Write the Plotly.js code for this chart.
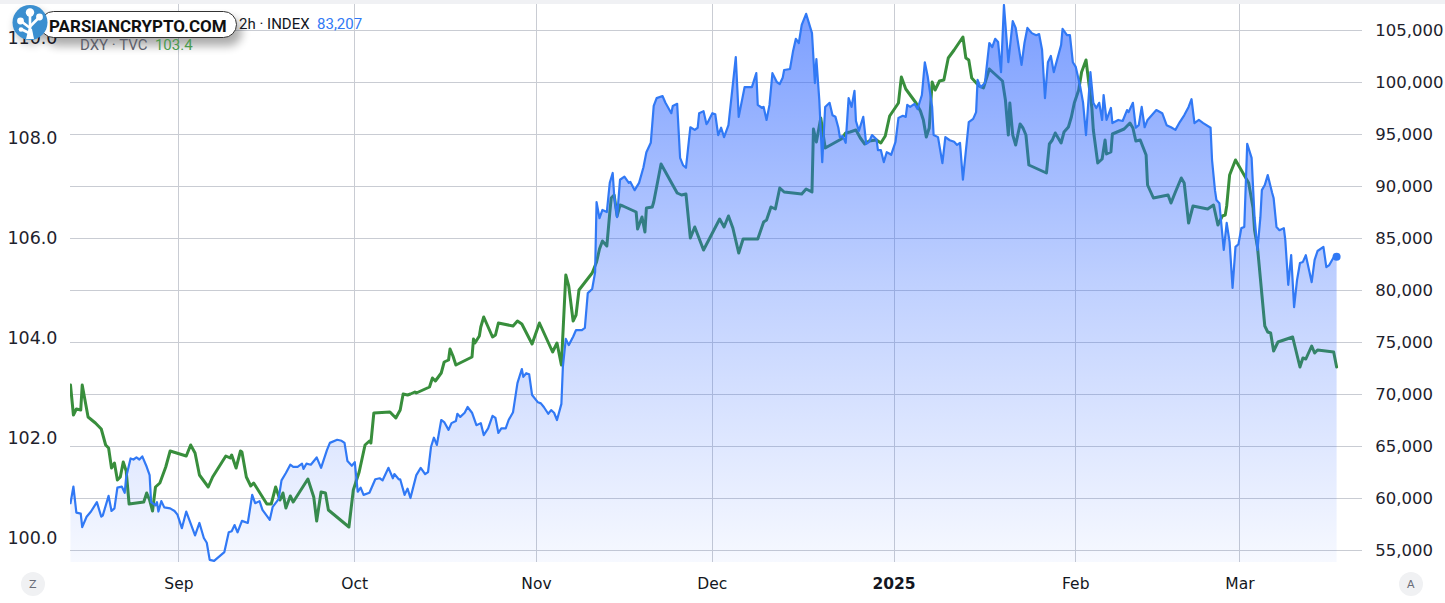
<!DOCTYPE html>
<html><head><meta charset="utf-8">
<script src="https://cdn.plot.ly/plotly-3.0.1.min.js"></script>
<style>
html,body{margin:0;padding:0;background:#fff;}
#chart{width:1445px;height:603px;}
#chart path.js-line{stroke-linejoin:round;stroke-linecap:round;}
</style>
</head><body><div id="chart"></div>
<script>
const btcDates = [
'2024-08-13 12:00','2024-08-14 00:00','2024-08-14 12:00','2024-08-15 06:00','2024-08-15 12:00','2024-08-16 06:00','2024-08-17 00:00','2024-08-18 00:00','2024-08-18 18:00','2024-08-19 00:00',
'2024-08-20 00:00','2024-08-20 12:00','2024-08-21 00:00','2024-08-21 12:00','2024-08-22 06:00','2024-08-22 18:00','2024-08-23 00:00','2024-08-23 18:00','2024-08-24 06:00','2024-08-24 18:00',
'2024-08-25 06:00','2024-08-25 18:00','2024-08-26 12:00','2024-08-27 00:00','2024-08-27 06:00','2024-08-28 00:00','2024-08-28 06:00','2024-08-28 12:00','2024-08-29 00:00','2024-08-29 12:00',
'2024-08-30 12:00','2024-08-31 06:00','2024-08-31 18:00','2024-09-01 12:00','2024-09-02 06:00','2024-09-03 00:00','2024-09-03 18:00','2024-09-04 12:00','2024-09-05 06:00','2024-09-05 18:00',
'2024-09-06 06:00','2024-09-07 00:00','2024-09-08 00:00','2024-09-08 18:00','2024-09-09 12:00','2024-09-10 00:00','2024-09-10 12:00','2024-09-11 00:00','2024-09-11 18:00','2024-09-12 12:00',
'2024-09-12 18:00','2024-09-13 12:00','2024-09-14 00:00','2024-09-14 18:00','2024-09-15 06:00','2024-09-16 12:00','2024-09-17 00:00','2024-09-18 00:00','2024-09-18 12:00','2024-09-19 06:00',
'2024-09-20 00:00','2024-09-20 12:00','2024-09-21 06:00','2024-09-22 00:00','2024-09-22 06:00','2024-09-22 18:00','2024-09-23 12:00','2024-09-24 12:00','2024-09-25 06:00','2024-09-26 06:00',
'2024-09-26 18:00','2024-09-28 00:00','2024-09-28 18:00','2024-09-29 06:00','2024-09-29 18:00','2024-09-30 12:00','2024-10-01 00:00','2024-10-01 12:00','2024-10-02 00:00','2024-10-02 12:00',
'2024-10-03 12:00','2024-10-04 12:00','2024-10-05 06:00','2024-10-05 18:00','2024-10-06 18:00','2024-10-07 12:00','2024-10-07 18:00','2024-10-08 12:00','2024-10-08 18:00','2024-10-09 12:00',
'2024-10-10 00:00','2024-10-10 12:00','2024-10-11 12:00','2024-10-12 06:00','2024-10-13 00:00','2024-10-13 12:00','2024-10-14 00:00','2024-10-14 12:00','2024-10-15 00:00','2024-10-15 18:00',
'2024-10-16 06:00','2024-10-17 00:00','2024-10-17 12:00','2024-10-18 06:00','2024-10-18 12:00','2024-10-19 00:00','2024-10-19 18:00','2024-10-20 06:00','2024-10-21 00:00','2024-10-21 18:00',
'2024-10-22 12:00','2024-10-23 00:00','2024-10-23 18:00','2024-10-24 12:00','2024-10-25 00:00','2024-10-25 12:00','2024-10-26 00:00','2024-10-26 18:00','2024-10-27 06:00','2024-10-28 00:00',
'2024-10-28 18:00','2024-10-29 12:00','2024-10-29 18:00','2024-10-30 06:00','2024-10-30 18:00','2024-10-31 06:00','2024-11-01 06:00','2024-11-01 18:00','2024-11-02 06:00','2024-11-03 00:00',
'2024-11-03 12:00','2024-11-04 00:00','2024-11-04 12:00','2024-11-05 06:00','2024-11-05 12:00','2024-11-06 00:00','2024-11-06 12:00','2024-11-07 06:00','2024-11-07 18:00','2024-11-08 18:00',
'2024-11-09 06:00','2024-11-09 18:00','2024-11-10 12:00','2024-11-11 00:00','2024-11-11 06:00','2024-11-11 18:00','2024-11-12 06:00','2024-11-13 00:00','2024-11-13 12:00','2024-11-14 00:00',
'2024-11-14 06:00','2024-11-14 18:00','2024-11-15 06:00','2024-11-16 00:00','2024-11-16 18:00','2024-11-17 00:00','2024-11-17 18:00','2024-11-18 12:00','2024-11-19 06:00','2024-11-19 18:00',
'2024-11-20 12:00','2024-11-21 00:00','2024-11-21 12:00','2024-11-22 12:00','2024-11-23 00:00','2024-11-24 00:00','2024-11-24 06:00','2024-11-25 00:00','2024-11-25 12:00','2024-11-26 00:00',
'2024-11-26 12:00','2024-11-27 06:00','2024-11-28 00:00','2024-11-28 12:00','2024-11-28 18:00','2024-11-29 12:00','2024-11-30 00:00','2024-11-30 06:00','2024-12-01 00:00','2024-12-01 12:00',
'2024-12-02 00:00','2024-12-02 12:00','2024-12-03 00:00','2024-12-03 18:00','2024-12-04 06:00','2024-12-05 00:00','2024-12-05 12:00','2024-12-06 00:00','2024-12-06 12:00','2024-12-07 06:00',
'2024-12-07 18:00','2024-12-08 12:00','2024-12-08 18:00','2024-12-09 12:00','2024-12-09 18:00','2024-12-10 06:00','2024-12-10 18:00','2024-12-11 06:00','2024-12-12 00:00','2024-12-12 12:00',
'2024-12-13 00:00','2024-12-13 06:00','2024-12-14 06:00','2024-12-14 18:00','2024-12-15 06:00','2024-12-15 18:00','2024-12-16 06:00','2024-12-17 00:00','2024-12-17 12:00','2024-12-18 00:00',
'2024-12-18 12:00','2024-12-18 18:00','2024-12-19 06:00','2024-12-19 18:00','2024-12-20 06:00','2024-12-21 00:00','2024-12-21 12:00','2024-12-22 00:00','2024-12-22 12:00','2024-12-22 18:00',
'2024-12-23 06:00','2024-12-23 18:00','2024-12-24 06:00','2024-12-24 18:00','2024-12-25 06:00','2024-12-25 12:00','2024-12-26 00:00','2024-12-26 18:00','2024-12-27 06:00','2024-12-27 18:00',
'2024-12-28 06:00','2024-12-29 00:00','2024-12-29 06:00','2024-12-29 18:00','2024-12-30 06:00','2024-12-30 18:00','2024-12-31 06:00','2024-12-31 12:00','2025-01-01 06:00','2025-01-01 18:00',
'2025-01-02 12:00','2025-01-03 00:00','2025-01-03 06:00','2025-01-03 18:00','2025-01-04 12:00','2025-01-05 00:00','2025-01-05 18:00','2025-01-06 06:00','2025-01-06 18:00','2025-01-07 12:00',
'2025-01-07 18:00','2025-01-08 12:00','2025-01-09 06:00','2025-01-09 18:00','2025-01-10 12:00','2025-01-11 06:00','2025-01-11 18:00','2025-01-12 06:00','2025-01-12 18:00','2025-01-13 06:00',
'2025-01-13 18:00','2025-01-14 12:00','2025-01-15 00:00','2025-01-15 06:00','2025-01-15 18:00','2025-01-16 12:00','2025-01-17 06:00','2025-01-17 18:00','2025-01-18 06:00','2025-01-18 18:00',
'2025-01-19 06:00','2025-01-19 18:00','2025-01-20 12:00','2025-01-21 06:00','2025-01-21 18:00','2025-01-22 18:00','2025-01-23 06:00','2025-01-23 18:00','2025-01-24 12:00','2025-01-25 06:00',
'2025-01-25 18:00','2025-01-26 06:00','2025-01-26 18:00','2025-01-27 06:00','2025-01-27 18:00','2025-01-28 06:00','2025-01-29 00:00','2025-01-29 12:00','2025-01-29 18:00','2025-01-30 12:00',
'2025-01-31 00:00','2025-01-31 12:00','2025-02-01 00:00','2025-02-01 18:00','2025-02-02 06:00','2025-02-02 18:00','2025-02-03 12:00','2025-02-04 00:00','2025-02-04 12:00','2025-02-05 00:00',
'2025-02-05 12:00','2025-02-05 18:00','2025-02-06 06:00','2025-02-07 00:00','2025-02-07 06:00','2025-02-08 06:00','2025-02-09 00:00','2025-02-09 18:00','2025-02-10 00:00','2025-02-10 18:00',
'2025-02-11 06:00','2025-02-11 18:00','2025-02-12 06:00','2025-02-12 18:00','2025-02-13 06:00','2025-02-14 00:00','2025-02-14 18:00','2025-02-15 18:00','2025-02-16 12:00','2025-02-17 06:00',
'2025-02-18 00:00','2025-02-18 18:00','2025-02-19 12:00','2025-02-20 06:00','2025-02-20 18:00','2025-02-21 06:00','2025-02-22 00:00','2025-02-22 18:00','2025-02-23 06:00','2025-02-24 00:00',
'2025-02-24 06:00','2025-02-24 12:00','2025-02-24 18:00','2025-02-25 00:00','2025-02-25 12:00','2025-02-26 06:00','2025-02-26 18:00','2025-02-27 06:00','2025-02-27 18:00','2025-02-28 06:00',
'2025-02-28 18:00','2025-03-01 06:00','2025-03-01 18:00','2025-03-02 06:00','2025-03-03 00:00','2025-03-03 12:00','2025-03-04 00:00','2025-03-04 12:00','2025-03-04 18:00','2025-03-05 06:00',
'2025-03-05 18:00','2025-03-06 12:00','2025-03-06 18:00','2025-03-07 06:00','2025-03-07 18:00','2025-03-08 12:00','2025-03-08 18:00','2025-03-09 06:00','2025-03-09 18:00','2025-03-10 06:00',
'2025-03-10 18:00','2025-03-11 06:00','2025-03-11 18:00','2025-03-12 06:00','2025-03-13 06:00','2025-03-13 18:00','2025-03-14 06:00','2025-03-15 06:00','2025-03-15 18:00','2025-03-16 06:00',
'2025-03-17 00:00','2025-03-17 12:00'
];
const btcValues = [
59500,61100,58600,58500,57200,58200,58700,59600,58200,58300,
60200,58750,59000,61000,61100,60500,62000,63800,63700,63900,
63700,64000,63000,62200,59600,59300,59600,58700,59700,59100,
59000,58750,58400,57100,58700,57600,56400,57600,56150,55700,
54050,53950,54400,54800,56700,56800,57400,56700,57800,57700,
57600,60300,59500,59700,58850,57900,59150,59900,61700,62400,
63200,63000,63000,63300,62800,63300,63200,63900,62900,64600,
65300,65600,65500,65300,63550,63100,63450,60600,61000,60300,
60500,61800,61900,61700,62900,61900,62300,61800,61800,60300,
60900,60000,62200,62900,62300,62500,64900,65800,65100,67500,
67300,66550,67200,67400,68100,67800,68200,68750,68200,67000,
67200,66050,66700,67900,67700,66250,66700,66700,67500,68250,
71050,72400,71650,72000,71900,69900,69200,69100,68750,68100,
68450,68200,67500,69050,72600,75300,74700,75500,76150,76150,
76350,79700,80100,81700,88450,86900,87700,87500,90300,91250,
89150,87000,90600,90900,90300,90400,89600,90300,91800,93250,
94150,97700,98450,98650,98000,97000,97700,97900,92700,92000,
91750,95650,95400,95600,97000,97200,95950,96150,97000,96900,
94900,95600,94700,95850,98550,102400,96650,98250,99500,99500,
99500,100850,97800,97500,97600,96350,97800,100850,100000,99800,
100400,101150,101250,102900,104150,103750,105500,106550,105700,104700,
99900,102200,98250,92300,97600,98000,96800,96650,95600,94700,
94800,94150,98450,97600,99150,96250,95300,96650,94050,94250,
94900,94500,93450,93450,92300,93250,93100,93000,94250,96550,
96750,96650,97800,97600,97900,97400,98750,101900,100500,97600,
94900,94700,92200,94700,94400,94250,93950,94150,90600,93750,
96150,96450,97100,100200,99500,99900,103750,103350,104150,103850,
100950,107400,101900,105850,105200,101650,103750,105200,104700,104500,
104600,103100,98450,101900,102500,100950,102400,103550,105100,104500,
104500,101900,101450,99600,98000,94900,100950,98000,97500,98000,
96350,98750,96350,97500,96050,96350,96250,97300,97100,98000,
95600,95850,97600,95650,96350,96800,97300,97000,95850,95650,
95400,96150,96800,97600,98350,96050,96350,96050,95850,95600,
92500,90850,89600,88650,88350,83850,86450,84600,80200,84150,
84400,85950,86050,94050,92700,87000,83850,87000,89600,90100,
91050,89350,88850,86050,85750,85950,84800,80500,83350,78350,
80950,82600,82700,83350,80750,82900,83750,84150,82200,82400,
83150,83207
];
const dxyDates = [
'2024-08-13 12:00','2024-08-14 00:00','2024-08-14 12:00','2024-08-15 06:00','2024-08-15 12:00','2024-08-16 12:00','2024-08-17 18:00','2024-08-18 18:00','2024-08-19 12:00','2024-08-20 00:00',
'2024-08-20 12:00','2024-08-21 00:00','2024-08-21 12:00','2024-08-22 00:00','2024-08-22 12:00','2024-08-23 00:00','2024-08-23 12:00','2024-08-26 00:00','2024-08-26 12:00','2024-08-27 00:00',
'2024-08-27 12:00','2024-08-28 00:00','2024-08-28 18:00','2024-08-29 18:00','2024-08-30 12:00','2024-09-02 06:00','2024-09-03 00:00','2024-09-03 18:00','2024-09-04 12:00','2024-09-05 18:00',
'2024-09-06 00:00','2024-09-06 18:00','2024-09-09 00:00','2024-09-09 18:00','2024-09-10 00:00','2024-09-10 18:00','2024-09-11 12:00','2024-09-11 18:00','2024-09-12 12:00','2024-09-13 06:00',
'2024-09-13 18:00','2024-09-16 00:00','2024-09-16 18:00','2024-09-17 12:00','2024-09-18 06:00','2024-09-18 18:00','2024-09-19 06:00','2024-09-20 00:00','2024-09-20 12:00','2024-09-23 00:00',
'2024-09-24 00:00','2024-09-24 12:00','2024-09-25 06:00','2024-09-26 00:00','2024-09-26 12:00','2024-09-30 00:00','2024-09-30 18:00','2024-10-01 18:00','2024-10-02 18:00','2024-10-03 12:00',
'2024-10-03 18:00','2024-10-04 06:00','2024-10-07 00:00','2024-10-08 00:00','2024-10-08 18:00','2024-10-09 06:00','2024-10-10 00:00','2024-10-10 12:00','2024-10-11 06:00','2024-10-11 12:00',
'2024-10-13 18:00','2024-10-14 06:00','2024-10-14 18:00','2024-10-15 18:00','2024-10-16 06:00','2024-10-17 00:00','2024-10-17 06:00','2024-10-17 18:00','2024-10-18 06:00','2024-10-21 00:00',
'2024-10-21 06:00','2024-10-21 12:00','2024-10-22 06:00','2024-10-22 12:00','2024-10-23 00:00','2024-10-23 18:00','2024-10-24 12:00','2024-10-25 00:00','2024-10-25 12:00','2024-10-28 00:00',
'2024-10-28 18:00','2024-10-29 12:00','2024-10-31 06:00','2024-11-01 12:00','2024-11-03 06:00','2024-11-03 18:00','2024-11-04 12:00','2024-11-05 06:00','2024-11-06 00:00','2024-11-06 12:00',
'2024-11-07 06:00','2024-11-07 18:00','2024-11-08 06:00','2024-11-10 12:00','2024-11-11 06:00','2024-11-11 18:00','2024-11-12 06:00','2024-11-13 00:00','2024-11-13 12:00','2024-11-13 18:00',
'2024-11-14 06:00','2024-11-14 18:00','2024-11-15 06:00','2024-11-15 18:00','2024-11-18 00:00','2024-11-18 06:00','2024-11-19 00:00','2024-11-19 12:00','2024-11-19 18:00','2024-11-20 18:00',
'2024-11-21 00:00','2024-11-22 06:00','2024-11-25 00:00','2024-11-25 18:00','2024-11-26 12:00','2024-11-27 06:00','2024-11-28 00:00','2024-11-29 12:00','2024-12-02 06:00','2024-12-03 00:00',
'2024-12-03 18:00','2024-12-04 12:00','2024-12-05 12:00','2024-12-06 06:00','2024-12-08 18:00','2024-12-09 18:00','2024-12-10 06:00','2024-12-11 00:00','2024-12-11 18:00','2024-12-12 12:00',
'2024-12-13 06:00','2024-12-16 06:00','2024-12-17 00:00','2024-12-18 00:00','2024-12-18 06:00','2024-12-18 18:00','2024-12-19 12:00','2024-12-20 06:00','2024-12-23 00:00','2024-12-23 18:00',
'2024-12-24 12:00','2024-12-25 12:00','2024-12-26 06:00','2024-12-27 00:00','2024-12-27 18:00','2024-12-29 00:00','2024-12-29 18:00','2024-12-30 12:00','2024-12-31 06:00','2025-01-01 06:00',
'2025-01-01 18:00','2025-01-02 06:00','2025-01-03 00:00','2025-01-04 18:00','2025-01-05 12:00','2025-01-06 00:00','2025-01-06 12:00','2025-01-07 00:00','2025-01-07 12:00','2025-01-08 00:00',
'2025-01-08 18:00','2025-01-09 12:00','2025-01-10 06:00','2025-01-11 06:00','2025-01-12 18:00','2025-01-13 06:00','2025-01-13 18:00','2025-01-14 06:00','2025-01-15 12:00','2025-01-16 06:00',
'2025-01-17 06:00','2025-01-19 12:00','2025-01-20 00:00','2025-01-20 12:00','2025-01-20 18:00','2025-01-21 06:00','2025-01-21 18:00','2025-01-22 12:00','2025-01-23 00:00','2025-01-23 12:00',
'2025-01-24 00:00','2025-01-27 00:00','2025-01-27 12:00','2025-01-28 00:00','2025-01-28 12:00','2025-01-29 12:00','2025-01-30 00:00','2025-01-30 18:00','2025-01-31 06:00','2025-01-31 18:00',
'2025-02-01 12:00','2025-02-02 00:00','2025-02-02 18:00','2025-02-03 18:00','2025-02-04 00:00','2025-02-04 18:00','2025-02-05 12:00','2025-02-06 00:00','2025-02-06 06:00','2025-02-07 00:00',
'2025-02-07 06:00','2025-02-09 06:00','2025-02-10 06:00','2025-02-10 18:00','2025-02-11 06:00','2025-02-12 00:00','2025-02-12 12:00','2025-02-13 00:00','2025-02-13 06:00','2025-02-14 06:00',
'2025-02-16 18:00','2025-02-17 06:00','2025-02-18 00:00','2025-02-19 00:00','2025-02-19 12:00','2025-02-20 06:00','2025-02-21 00:00','2025-02-23 12:00','2025-02-24 12:00','2025-02-25 06:00',
'2025-02-26 00:00','2025-02-26 12:00','2025-02-26 18:00','2025-02-27 06:00','2025-02-28 06:00','2025-03-02 00:00','2025-03-02 12:00','2025-03-03 06:00','2025-03-03 12:00','2025-03-04 00:00',
'2025-03-04 12:00','2025-03-05 06:00','2025-03-05 18:00','2025-03-06 06:00','2025-03-06 18:00','2025-03-07 12:00','2025-03-10 00:00','2025-03-10 18:00','2025-03-11 06:00','2025-03-11 18:00',
'2025-03-12 06:00','2025-03-13 06:00','2025-03-13 18:00','2025-03-14 06:00','2025-03-17 00:00','2025-03-17 12:00'
];
const dxyValues = [
103.06,102.46,102.58,102.56,103.06,102.42,102.30,102.18,101.86,101.80,
101.40,101.50,101.16,101.22,101.52,101.34,100.68,100.72,100.90,100.76,
100.54,101.02,101.10,101.42,101.74,101.64,101.86,101.70,101.26,101.04,
101.02,101.22,101.64,101.60,101.66,101.40,101.74,101.72,101.22,101.04,
101.10,100.68,100.68,101.02,100.76,100.90,100.60,100.84,100.72,101.18,
100.82,100.34,100.92,100.90,100.56,100.22,100.96,101.32,101.86,101.94,
101.90,102.50,102.52,102.40,102.56,102.88,102.86,102.88,102.92,102.90,
103.02,103.20,103.14,103.30,103.52,103.56,103.78,103.64,103.46,103.62,
103.98,103.90,104.04,104.22,104.42,104.22,104.02,104.06,104.30,104.24,
104.34,104.28,103.88,104.30,103.86,103.72,103.90,103.46,105.26,105.04,
104.34,104.46,104.96,105.30,105.52,105.78,105.94,105.84,106.50,106.80,
106.86,106.44,106.66,106.64,106.52,106.18,106.42,106.12,106.60,106.62,
106.72,107.48,106.90,106.86,106.88,106.00,106.22,105.76,106.38,106.22,
106.44,106.20,105.70,105.98,105.98,106.32,106.36,106.62,106.58,107.00,
106.92,106.88,106.98,106.92,108.18,107.92,108.40,107.80,107.98,108.10,
108.12,108.16,108.00,107.88,107.94,107.96,107.90,108.04,108.44,108.60,
108.70,109.22,108.98,108.70,108.54,108.36,108.02,108.20,109.12,108.96,
109.14,109.16,109.60,109.76,110.02,109.60,109.56,109.20,109.04,109.00,
109.38,109.14,108.76,108.06,108.70,108.06,107.86,108.28,108.20,108.06,
107.46,107.30,107.88,107.96,108.10,107.90,108.12,108.22,108.42,108.70,
108.96,109.32,109.56,108.60,108.16,107.50,107.58,107.96,107.68,107.72,
108.08,108.18,108.30,108.20,107.94,107.96,107.80,107.66,107.06,106.80,
106.86,106.70,106.92,107.20,107.10,106.30,106.64,106.58,106.66,106.26,
106.44,106.46,106.64,107.26,107.56,107.22,107.10,106.60,106.16,105.82,
105.22,104.24,104.12,104.10,103.74,103.92,104.02,103.66,103.42,103.60,
103.58,103.84,103.70,103.76,103.72,103.42
];
const monthTicks = ['2024-09-01','2024-10-01','2024-11-01','2024-12-01','2025-01-01','2025-02-01','2025-03-01'];
const monthLabels = ['Sep','Oct','Nov','Dec','2025','Feb','Mar'];
const dxyTicks = [100,102,104,106,108,110];
const btcLabel = '2h · INDEX';
const dxyLabel = 'DXY · TVC';
const brandText = 'PARSIANCRYPTO.COM';

// geometry helpers (pixel -> paper)
const PL = 70, PR = 1362, PT = 4, PB = 562;
const px = x => (x - PL) / (PR - PL);
const py = y => (PB - y) / (PB - PT);

const BLUE = '#3179f5', GREEN = '#388e3c', GRID = '#c9ccd3';
const lastBtc = btcValues[btcValues.length - 1];
const lastDxy = dxyValues[dxyValues.length - 1];

const traces = [
  {x: dxyDates, y: dxyValues, yaxis: 'y', type: 'scatter', mode: 'lines',
   line: {color: GREEN, width: 3}, hoverinfo: 'skip'},
  {x: btcDates, y: btcValues, yaxis: 'y2', type: 'scatter', mode: 'lines',
   fill: 'tozeroy',
   fillgradient: {type: 'vertical', start: 53846, stop: 107500,
     colorscale: [[0, 'rgba(41,98,255,0.04)'], [0.5, 'rgba(41,98,255,0.3)'], [1, 'rgba(41,98,255,0.62)']]},
   fillcolor: 'rgba(41,98,255,0.3)',
   line: {color: BLUE, width: 2.2}, hoverinfo: 'skip'},
  {x: [btcDates[btcDates.length - 1]], y: [lastBtc], yaxis: 'y2', type: 'scatter', mode: 'markers',
   marker: {color: BLUE, size: 8}, hoverinfo: 'skip'}
];

const wmSvg = '<svg xmlns="http://www.w3.org/2000/svg" width="260" height="70" viewBox="0 0 260 70">' +
 '<defs><filter id="b" x="-30%" y="-80%" width="160%" height="260%"><feGaussianBlur stdDeviation="5"/></filter></defs>' +
 '<rect x="44" y="18" width="198" height="28" rx="14" fill="#000" opacity="0.32" filter="url(#b)"/>' +
 '<circle cx="32" cy="27" r="17" fill="#000" opacity="0.28" filter="url(#b)"/>' +
 '<rect x="40.5" y="11.5" width="196" height="26" rx="13" fill="#fff" stroke="#333" stroke-width="1"/>' +
 '<circle cx="30" cy="22.5" r="17.5" fill="#3b8fd0"/>' +
 '<g stroke="#fff" stroke-width="2.6" stroke-linecap="round" fill="none">' +
 '<path d="M30 31 L30 15"/><path d="M30 28 L21.5 21.5"/><path d="M30.5 26 L38.5 18"/><path d="M29 33 L22 29.5"/></g>' +
 '<path d="M26 39 L34 39 L32 29 L28.5 29 Z" fill="#fff"/>' +
 '<circle cx="30" cy="12.5" r="4.2" fill="#fff"/><circle cx="20.5" cy="21" r="3.4" fill="#fff"/>' +
 '<circle cx="39.5" cy="17" r="3.4" fill="#fff"/><circle cx="21" cy="29.5" r="2.3" fill="#fff"/>' +
 '</svg>';

const layout = {
  width: 1445, height: 603,
  margin: {l: PL, r: 1445 - PR, t: PT, b: 603 - PB, pad: 0},
  paper_bgcolor: '#ffffff', plot_bgcolor: '#ffffff',
  showlegend: false,
  xaxis: {type: 'date', range: ['2024-08-13 10:00', '2025-03-21 20:00'],
    tickmode: 'array', tickvals: monthTicks,
    ticktext: monthLabels.map(l => /^\d{4}$/.test(l) ? '<b>' + l + '</b>' : l),
    showgrid: true, gridcolor: GRID, gridwidth: 1, zeroline: false, showline: false,
    ticks: 'outside', ticklen: 3, tickcolor: 'rgba(0,0,0,0)', ticklabelstandoff: 4,
    tickfont: {family: 'DejaVu Sans', size: 15.5, color: '#131722'}, fixedrange: true},
  yaxis: {range: [99.52, 110.68], tickmode: 'array', tickvals: dxyTicks, tickformat: '.1f',
    showgrid: false, zeroline: false, showline: false,
    ticks: 'outside', ticklen: 8, tickcolor: 'rgba(0,0,0,0)', ticklabelstandoff: 0,
    tickfont: {family: 'DejaVu Sans', size: 17.5, color: '#1e222d'}, fixedrange: true},
  yaxis2: {overlaying: 'y', side: 'right', range: [53846, 107500], tick0: 0, dtick: 5000, tickformat: ',d',
    showgrid: true, gridcolor: GRID, gridwidth: 1, zeroline: false, showline: false,
    ticks: 'outside', ticklen: 9, tickcolor: 'rgba(0,0,0,0)', ticklabelstandoff: 0,
    tickfont: {family: 'DejaVu Sans', size: 16.5, color: '#1e222d'}, fixedrange: true},
  shapes: [
    {type: 'rect', xref: 'paper', yref: 'paper', x0: px(0), x1: px(1445), y0: py(4), y1: py(0),
     fillcolor: '#f0f1f4', line: {width: 0}, layer: 'above'},
    {type: 'circle', xref: 'paper', yref: 'paper', x0: px(21), x1: px(45), y0: py(596), y1: py(572),
     fillcolor: '#f0f1f3', line: {width: 0}, layer: 'above'},
    {type: 'circle', xref: 'paper', yref: 'paper', x0: px(1399), x1: px(1423), y0: py(596), y1: py(572),
     fillcolor: '#f0f1f3', line: {width: 0}, layer: 'above'}
  ],
  images: [
    {source: 'data:image/svg+xml;charset=utf-8,' + encodeURIComponent(wmSvg),
     xref: 'paper', yref: 'paper', x: px(0), y: py(0), sizex: 260 / (PR - PL), sizey: 70 / (PB - PT),
     xanchor: 'left', yanchor: 'top', sizing: 'stretch', layer: 'above'}
  ],
  annotations: [
    {xref: 'paper', yref: 'paper', x: px(47), y: py(25.5), xanchor: 'left', yanchor: 'middle', showarrow: false,
     text: '<b>' + brandText + '</b>', font: {family: 'Roboto', size: 17, color: '#111111'}},
    {xref: 'paper', yref: 'paper', x: px(237), y: py(24), xanchor: 'left', yanchor: 'middle', showarrow: false,
     text: btcLabel + '\u00a0\u00a0<span style="color:' + BLUE + '">' + lastBtc.toLocaleString('en-US') + '</span>',
     font: {family: 'Roboto', size: 15, color: '#131722'}},
    {xref: 'paper', yref: 'paper', x: px(78), y: py(45), xanchor: 'left', yanchor: 'middle', showarrow: false,
     text: dxyLabel + '\u00a0\u00a0<span style="color:#4b9a4f">' + lastDxy.toFixed(1) + '</span>',
     font: {family: 'Roboto', size: 15, color: '#5d606b'}},
    {xref: 'paper', yref: 'paper', x: px(33), y: py(584), xanchor: 'center', yanchor: 'middle', showarrow: false,
     text: 'Z', font: {family: 'DejaVu Sans', size: 11, color: '#6a6d78'}},
    {xref: 'paper', yref: 'paper', x: px(1411), y: py(584), xanchor: 'center', yanchor: 'middle', showarrow: false,
     text: 'A', font: {family: 'DejaVu Sans', size: 11, color: '#6a6d78'}}
  ]
};

Plotly.newPlot('chart', traces, layout, {staticPlot: true, displayModeBar: false});
</script>
</body></html>
